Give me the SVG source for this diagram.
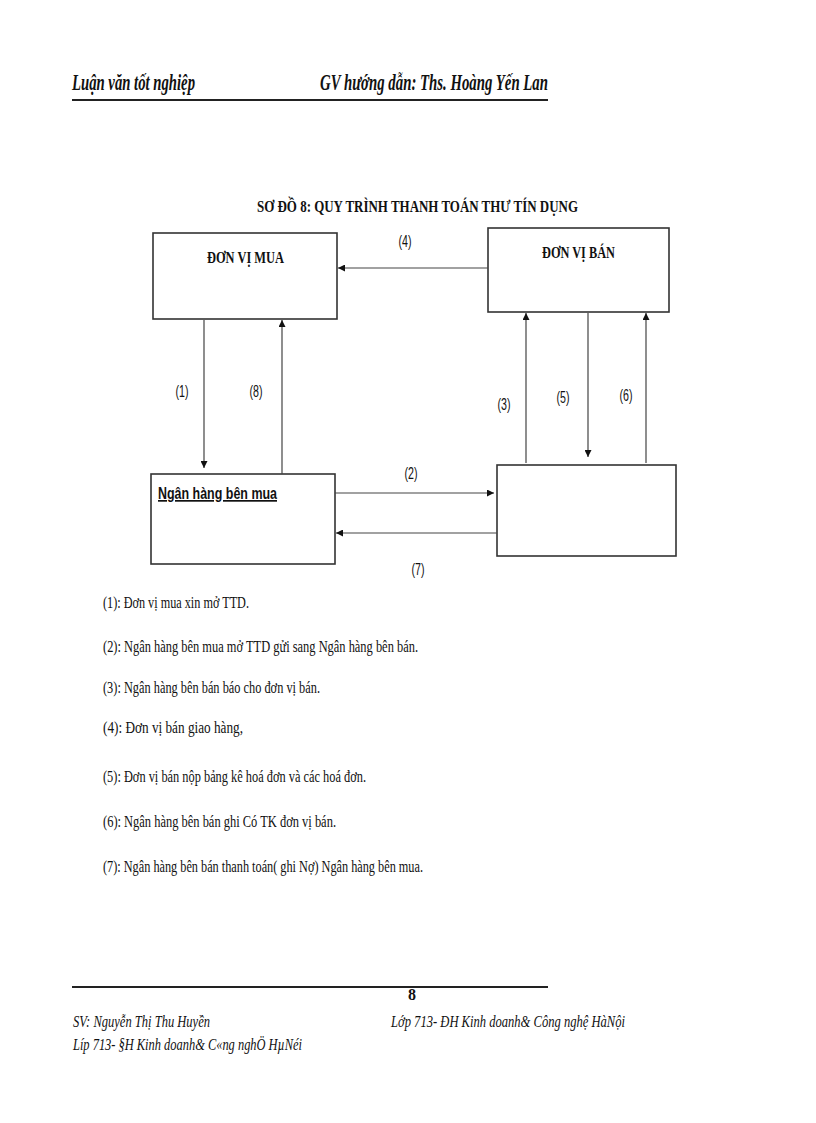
<svg xmlns="http://www.w3.org/2000/svg" width="816" height="1123" viewBox="0 0 816 1123">
<defs>
<style>
.box{fill:#fff;stroke:#333;stroke-width:1.6}
.con{stroke:#444;stroke-width:1.2;fill:none}
.lbl{font-family:"Liberation Sans",Arial,sans-serif;font-size:17px;fill:#111}
.bx{font-family:"Liberation Serif","Times New Roman",serif;font-weight:bold;font-size:17px;fill:#111}
.note{font-family:"Liberation Serif","Times New Roman",serif;font-size:16px;fill:#111}
.hdr{font-family:"Liberation Serif","Times New Roman",serif;font-weight:bold;font-style:italic;font-size:23px;fill:#111}
.ftr{font-family:"Liberation Serif","Times New Roman",serif;font-style:italic;font-size:16px;fill:#111}
.rule{stroke:#222;stroke-width:2}
</style>
<marker id="ah" viewBox="0 0 10 10" refX="10" refY="5" markerWidth="8" markerHeight="7" markerUnits="userSpaceOnUse" orient="auto">
<path d="M0,0 L10,5 L0,10 z" fill="#111"/>
</marker>
</defs>
<rect width="816" height="1123" fill="#fff"/>

<g id="header">
<text class="hdr" x="72" y="90" textLength="123" lengthAdjust="spacingAndGlyphs">Luận văn tốt nghiệp</text>
<text class="hdr" x="320" y="90" textLength="228" lengthAdjust="spacingAndGlyphs">GV hướng dẫn: Ths. Hoàng Yến Lan</text>
<line class="rule" x1="72" y1="100" x2="548" y2="100"/>
</g>

<g id="title">
<text class="note" x="257" y="212" font-size="17" font-weight="bold" textLength="321" lengthAdjust="spacingAndGlyphs">SƠ ĐỒ 8: QUY  TRÌNH THANH  TOÁN THƯ TÍN DỤNG</text>
</g>

<g id="don-vi-mua">
<rect class="box" x="153" y="233" width="184" height="86"/>
<text class="bx" x="207" y="263" textLength="77" lengthAdjust="spacingAndGlyphs">ĐƠN VỊ MUA</text>
</g>

<g id="don-vi-ban">
<rect class="box" x="488" y="228" width="181" height="84"/>
<text class="bx" x="542" y="258" textLength="73" lengthAdjust="spacingAndGlyphs">ĐƠN VỊ BÁN</text>
</g>

<g id="ngan-hang-ben-mua">
<rect class="box" x="151" y="474" width="184" height="90"/>
<text class="lbl" x="158" y="499" font-size="15" font-weight="bold" text-decoration="underline" textLength="119" lengthAdjust="spacingAndGlyphs">Ngân hàng bên mua</text>
</g>

<g id="ngan-hang-ben-ban">
<rect class="box" x="497" y="465" width="179" height="91"/>
</g>

<g id="connectors">
<line class="con" x1="488" y1="268" x2="338" y2="268" marker-end="url(#ah)"/>
<line class="con" x1="204" y1="320" x2="204" y2="468" marker-end="url(#ah)"/>
<line class="con" x1="282" y1="474" x2="282" y2="320" marker-end="url(#ah)"/>
<line class="con" x1="335" y1="493" x2="494" y2="493" marker-end="url(#ah)"/>
<line class="con" x1="497" y1="533" x2="336" y2="533" marker-end="url(#ah)"/>
<line class="con" x1="526" y1="463" x2="526" y2="313" marker-end="url(#ah)"/>
<line class="con" x1="588" y1="313" x2="588" y2="457" marker-end="url(#ah)"/>
<line class="con" x1="646" y1="463" x2="646" y2="313" marker-end="url(#ah)"/>
<g id="connector-labels">
<text class="lbl" x="405" y="247" text-anchor="middle" textLength="13" lengthAdjust="spacingAndGlyphs">(4)</text>
<text class="lbl" x="182" y="397" text-anchor="middle" textLength="13" lengthAdjust="spacingAndGlyphs">(1)</text>
<text class="lbl" x="256" y="397" text-anchor="middle" textLength="13" lengthAdjust="spacingAndGlyphs">(8)</text>
<text class="lbl" x="411" y="479" text-anchor="middle" textLength="13" lengthAdjust="spacingAndGlyphs">(2)</text>
<text class="lbl" x="418" y="575" text-anchor="middle" textLength="13" lengthAdjust="spacingAndGlyphs">(7)</text>
<text class="lbl" x="504" y="410" text-anchor="middle" textLength="13" lengthAdjust="spacingAndGlyphs">(3)</text>
<text class="lbl" x="563" y="403" text-anchor="middle" textLength="13" lengthAdjust="spacingAndGlyphs">(5)</text>
<text class="lbl" x="626" y="401" text-anchor="middle" textLength="13" lengthAdjust="spacingAndGlyphs">(6)</text>
</g>
</g>

<g id="notes">
<text class="note" x="103" y="608" textLength="146" lengthAdjust="spacingAndGlyphs">(1): Đơn vị mua xin mở TTD.</text>
<text class="note" x="103" y="652" textLength="315" lengthAdjust="spacingAndGlyphs">(2): Ngân hàng bên mua mở TTD gửi sang Ngân hàng  bên bán.</text>
<text class="note" x="103" y="693" textLength="217" lengthAdjust="spacingAndGlyphs">(3): Ngân hàng bên bán báo cho đơn vị bán.</text>
<text class="note" x="103" y="733" textLength="140" lengthAdjust="spacingAndGlyphs">(4): Đơn vị bán giao  hàng,</text>
<text class="note" x="103" y="782" textLength="263" lengthAdjust="spacingAndGlyphs">(5): Đơn vị bán nộp bảng kê hoá đơn và các hoá đơn.</text>
<text class="note" x="103" y="827" textLength="233" lengthAdjust="spacingAndGlyphs">(6): Ngân hàng bên bán ghi  Có TK đơn vị bán.</text>
<text class="note" x="103" y="872" textLength="320" lengthAdjust="spacingAndGlyphs">(7): Ngân hàng bên bán thanh toán( ghi  Nợ) Ngân hàng bên mua.</text>
</g>

<g id="footer">
<line class="rule" x1="72" y1="987" x2="548" y2="987"/>
<text class="note" x="412" y="1000" font-size="12" font-weight="bold" text-anchor="middle">8</text>
<text class="ftr" x="73" y="1027" textLength="137" lengthAdjust="spacingAndGlyphs">SV: Nguyễn Thị Thu Huyền</text>
<text class="ftr" x="391" y="1027" textLength="234" lengthAdjust="spacingAndGlyphs">Lớp 713- ĐH Kinh doanh&amp; Công nghệ HàNội</text>
<text class="ftr" x="73" y="1050" textLength="229" lengthAdjust="spacingAndGlyphs">Líp 713- §H Kinh doanh&amp; C«ng nghÖ HµNéi</text>
</g>
</svg>
